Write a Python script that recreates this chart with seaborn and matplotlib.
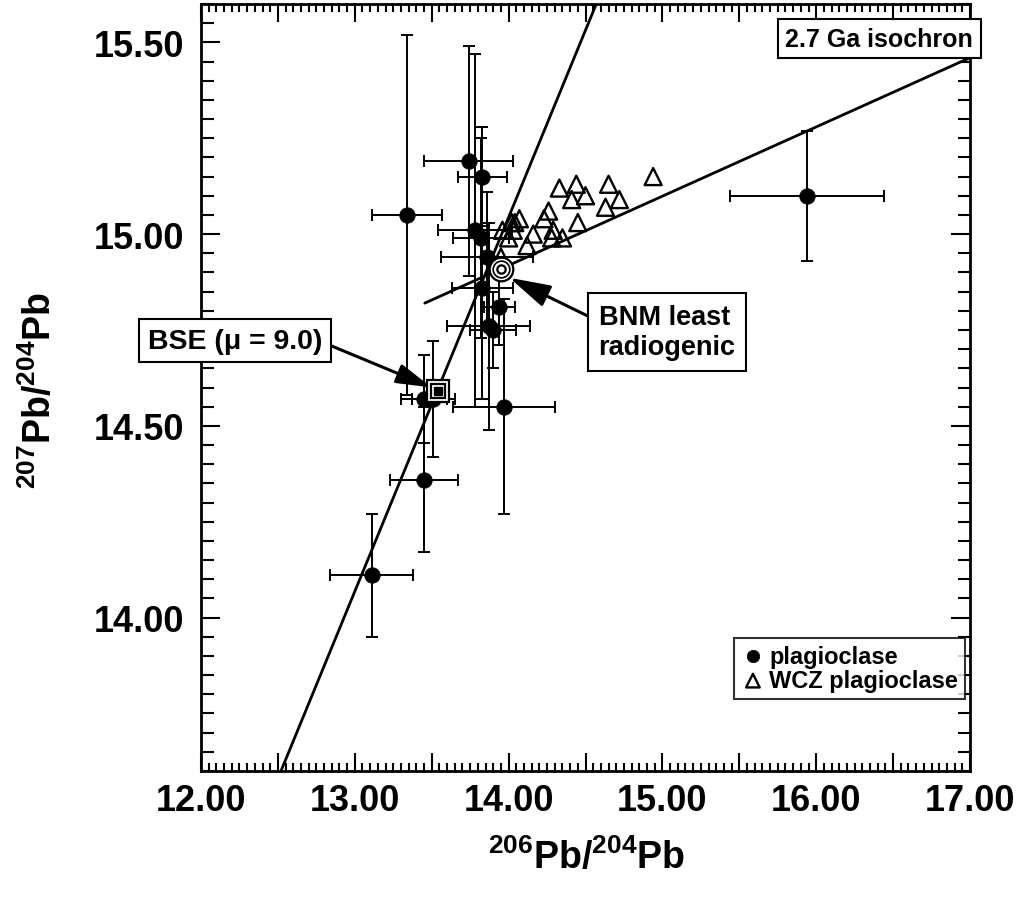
"""
Pb isotope plot: 207Pb/204Pb vs 206Pb/204Pb
plagioclase with error bars, WCZ plagioclase, BSE / BNM reference points
"""

import matplotlib
matplotlib.use('Agg')
import matplotlib.pyplot as plt
from matplotlib.ticker import MultipleLocator, FuncFormatter
import seaborn as sns

# ---- data ----
plag_x = [15.94, 13.11, 13.45, 13.45, 13.51, 13.97, 13.34, 13.74,
          13.83, 13.78, 13.82, 13.86, 13.83, 13.94, 13.87, 13.90]
plag_y = [15.10, 14.11, 14.36, 14.57, 14.57, 14.55, 15.05, 15.19,
          15.15, 15.01, 14.99, 14.94, 14.86, 14.81, 14.76, 14.75]
plag_xerr = [0.50, 0.27, 0.22, 0.15, 0.14, 0.33, 0.23, 0.29,
             0.16, 0.24, 0.18, 0.30, 0.20, 0.10, 0.27, 0.15]
plag_yerr = [0.17, 0.16, 0.19, 0.115, 0.15, 0.28, 0.47, 0.30,
             0.13, 0.46, 0.26, 0.17, 0.29, 0.10, 0.27, 0.10]

wcz_x = [14.94, 14.33, 14.44, 14.65, 14.41, 14.50, 14.72, 14.63, 14.26, 14.23,
         14.45, 14.07, 14.04, 14.03, 14.16, 14.29, 14.35, 14.28, 14.12, 13.95,
         14.00, 13.96, 14.02]
wcz_y = [15.15, 15.12, 15.13, 15.13, 15.09, 15.10, 15.09, 15.07, 15.06, 15.04,
         15.03, 15.04, 15.03, 15.01, 15.00, 15.01, 14.99, 14.99, 14.97, 14.94,
         14.99, 15.01, 15.03]

# reference points
bse_xy = (13.54, 14.59)
bnm_xy = (13.95, 14.91)

# reference lines (end points)
steep_x = [12.52, 14.57]
steep_y = [13.60, 15.60]
iso_x = [13.455, 17.00]
iso_y = [14.82, 15.46]

XLIM = (12.0, 17.0)
YLIM = (13.6, 15.6)

# ---- style ----
sns.set_style('ticks')
plt.rcParams['font.family'] = ['Liberation Sans', 'DejaVu Sans']
plt.rcParams['font.weight'] = 'bold'
for key in ['text.color', 'axes.labelcolor', 'xtick.color', 'ytick.color',
            'axes.edgecolor']:
    plt.rcParams[key] = 'black'
plt.rcParams['mathtext.fontset'] = 'custom'
plt.rcParams['mathtext.rm'] = 'Liberation Sans:bold'
plt.rcParams['mathtext.bf'] = 'Liberation Sans:bold'
plt.rcParams['mathtext.it'] = 'Liberation Sans:bold:italic'

fig = plt.figure(figsize=(10.24, 9.03), dpi=100)
ax = fig.add_axes([201 / 1024, 131 / 903, 769 / 1024, 767 / 903])

# lines
ax.plot(steep_x, steep_y, color='black', lw=2.0, zorder=2)
ax.plot(iso_x, iso_y, color='black', lw=2.0, zorder=2)

# error bars
ax.errorbar(plag_x, plag_y, xerr=plag_xerr, yerr=plag_yerr, fmt='none',
            ecolor='black', elinewidth=1.4, capsize=4.5, capthick=1.4, zorder=3)

# points
sns.scatterplot(x=plag_x, y=plag_y, ax=ax, marker='o', s=125, color='black',
                edgecolor='black', linewidth=0.5, label='plagioclase', zorder=4)
sns.scatterplot(x=wcz_x, y=wcz_y, ax=ax, marker='^', s=150, facecolors='none',
                edgecolor='black', linewidth=1.7, label='WCZ plagioclase', zorder=4)

# BSE double square
ax.plot(*bse_xy, marker='s', ms=16, mfc='white', mec='black', mew=1.6, zorder=5)
ax.plot(*bse_xy, marker='s', ms=10.5, mfc='none', mec='black', mew=1.6, zorder=5)
ax.plot(*bse_xy, marker='s', ms=6, mfc='black', mec='black', zorder=5)

# BNM bull's eye
ax.plot(*bnm_xy, marker='o', ms=17, mfc='white', mec='black', mew=1.6, zorder=5)
ax.plot(*bnm_xy, marker='o', ms=12, mfc='none', mec='black', mew=1.2, zorder=5)
ax.plot(*bnm_xy, marker='o', ms=6, mfc='none', mec='black', mew=1.6, zorder=5)

# annotations
box = dict(boxstyle='square,pad=0.3', fc='white', ec='black', lw=1.5)
ax.annotate('2.7 Ga isochron', xy=(16.41, 15.51), ha='center', va='center',
            fontsize=18, fontweight='bold', bbox=box, zorder=6,
            annotation_clip=False)
ax.annotate('BNM least\nradiogenic', xy=(14.006, 14.886), xytext=(15.03, 14.745),
            ha='center', va='center', multialignment='left',
            fontsize=19.5, fontweight='bold',
            bbox=dict(boxstyle='square,pad=0.4', fc='white', ec='black', lw=1.5),
            arrowprops=dict(arrowstyle='-|>,head_length=0.9,head_width=0.25',
                            color='black', lw=2.2,
                            mutation_scale=28, shrinkA=0, shrinkB=0,
                            relpos=(0, 0.69)),
            zorder=6)
ax.annotate('BSE (\u03bc = 9.0)', xy=(13.50, 14.60), xytext=(12.22, 14.722),
            ha='center', va='center', fontsize=20.5, fontweight='bold',
            bbox=dict(boxstyle='square,pad=0.3', fc='white', ec='black', lw=1.5),
            arrowprops=dict(arrowstyle='-|>,head_length=0.9,head_width=0.25',
                            color='black', lw=2.2,
                            mutation_scale=24, shrinkA=0, shrinkB=0,
                            relpos=(1, 0.45)),
            zorder=6)

# axes
ax.set_xlim(*XLIM)
ax.set_ylim(*YLIM)
ax.xaxis.set_major_locator(MultipleLocator(0.5))
ax.xaxis.set_minor_locator(MultipleLocator(0.05))
ax.yaxis.set_major_locator(MultipleLocator(0.5))
ax.yaxis.set_minor_locator(MultipleLocator(0.05))
ax.xaxis.set_major_formatter(
    FuncFormatter(lambda v, p: f'{v:.2f}' if abs(v - round(v)) < 1e-6 else ''))
ax.yaxis.set_major_formatter(FuncFormatter(lambda v, p: f'{v:.2f}'))

ax.tick_params(which='both', direction='in', top=True, right=True,
               width=1.5, labelsize=26, colors='black')
ax.tick_params(axis='x', which='major', length=13, pad=9)
ax.tick_params(axis='x', which='minor', length=6)
ax.tick_params(axis='y', which='major', length=14, pad=12)
ax.tick_params(axis='y', which='minor', length=9)
for lab in ax.get_xticklabels() + ax.get_yticklabels():
    lab.set_fontweight('bold')
for sp in ax.spines.values():
    sp.set_linewidth(2.0)
    sp.set_color('black')

ax.set_xlabel('')
ax.set_ylabel('')
fig.text(587 / 1024, 1 - 858 / 903, '$^{206}$Pb/$^{204}$Pb', ha='center',
         va='center', fontsize=27, fontweight='bold', color='black')
fig.text(40 / 1024, 1 - 390 / 903, '$^{207}$Pb/$^{204}$Pb', ha='center',
         va='center', rotation=90, fontsize=27, fontweight='bold', color='black')

# legend
leg = ax.legend(loc='lower right', bbox_to_anchor=(0.994, 0.094),
                prop={'weight': 'bold', 'size': 17}, frameon=True,
                fancybox=False, handletextpad=0.2, handlelength=1.0,
                borderpad=0.3, labelspacing=0.05, borderaxespad=0,
                markerscale=0.8)
leg.get_frame().set_edgecolor('black')
leg.get_frame().set_linewidth(1.5)
for t in leg.get_texts():
    t.set_color('black')

fig.savefig('out.png', dpi=100)
plt.close(fig)
